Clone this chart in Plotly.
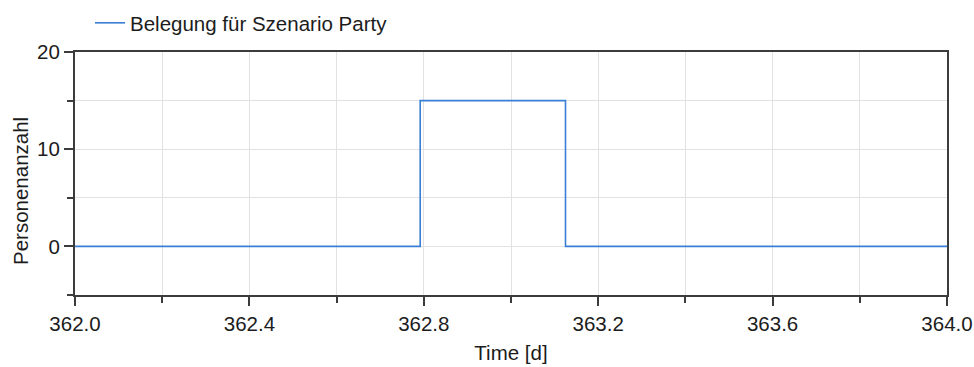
import plotly.graph_objects as go

# Data
time_d = [362.0, 362.7917, 363.125, 364.0]
personen = [0, 15, 0, 0]
series_name = "Belegung für Szenario Party"
x_title = "Time [d]"
y_title = "Personenanzahl"

FONT = "Liberation Sans, Arial, sans-serif"
FS = 20.5
TXT = "#1c1c1c"
AXIS = "#3c3c3c"
GRID = "#e2e2e2"

W, H = 974, 367
L, R, T, B = 75, 27, 52, 72
pw, ph = W - L - R, H - T - B

fig = go.Figure()
fig.add_trace(go.Scatter(
    x=time_d, y=personen, mode="lines", line_shape="hv",
    name=series_name, line=dict(color="#3a7fd6", width=1.6),
    showlegend=True,
))

fig.update_layout(
    width=W, height=H,
    margin=dict(l=L, r=R, t=T, b=B, autoexpand=False),
    paper_bgcolor="white", plot_bgcolor="white",
    font=dict(family=FONT, size=FS, color=TXT),
    showlegend=True,
    legend=dict(
        x=(90 - L) / pw, xanchor="left",
        y=1 + (T - 23) / ph, yanchor="middle",
        bgcolor="rgba(0,0,0,0)", borderwidth=0,
        font=dict(size=FS, color=TXT),
    ),
    xaxis=dict(
        range=[362.0, 364.0], tick0=362.0, dtick=0.4, tickformat=".1f",
        showgrid=True, gridcolor=GRID, gridwidth=1, automargin=False,
        ticks="outside", ticklen=9, tickwidth=1.5, tickcolor=AXIS,
        showline=True, linecolor=AXIS, linewidth=2, mirror=True,
        zeroline=False,
        minor=dict(dtick=0.2, tick0=362.0, ticks="outside", ticklen=6,
                   tickwidth=1.5, tickcolor=AXIS, showgrid=True,
                   gridcolor=GRID, gridwidth=1),
        title=dict(text=x_title, standoff=12, font=dict(size=FS, color=TXT)),
        tickfont=dict(size=FS, color=TXT),
    ),
    yaxis=dict(
        range=[-5, 20], tick0=0, dtick=10, automargin=False,
        showgrid=True, gridcolor=GRID, gridwidth=1,
        ticks="outside", ticklen=9, tickwidth=1.5, tickcolor=AXIS,
        showline=True, linecolor=AXIS, linewidth=2, mirror=True,
        zeroline=False,
        minor=dict(dtick=5, tick0=0, ticks="outside", ticklen=6,
                   tickwidth=1.5, tickcolor=AXIS, showgrid=True,
                   gridcolor=GRID, gridwidth=1),
        tickfont=dict(size=FS, color=TXT),
    ),
)

fig.add_annotation(
    text=y_title, textangle=-90, showarrow=False,
    xref="paper", yref="paper",
    x=(20 - L) / pw, y=1 - (191 - T) / ph,
    xanchor="center", yanchor="middle",
    font=dict(size=FS, color=TXT, family=FONT),
)

fig.write_html(
    "out.html",
    config={"displayModeBar": False},
    post_script="document.body.style.margin='0';document.body.style.overflow='hidden';",
)
